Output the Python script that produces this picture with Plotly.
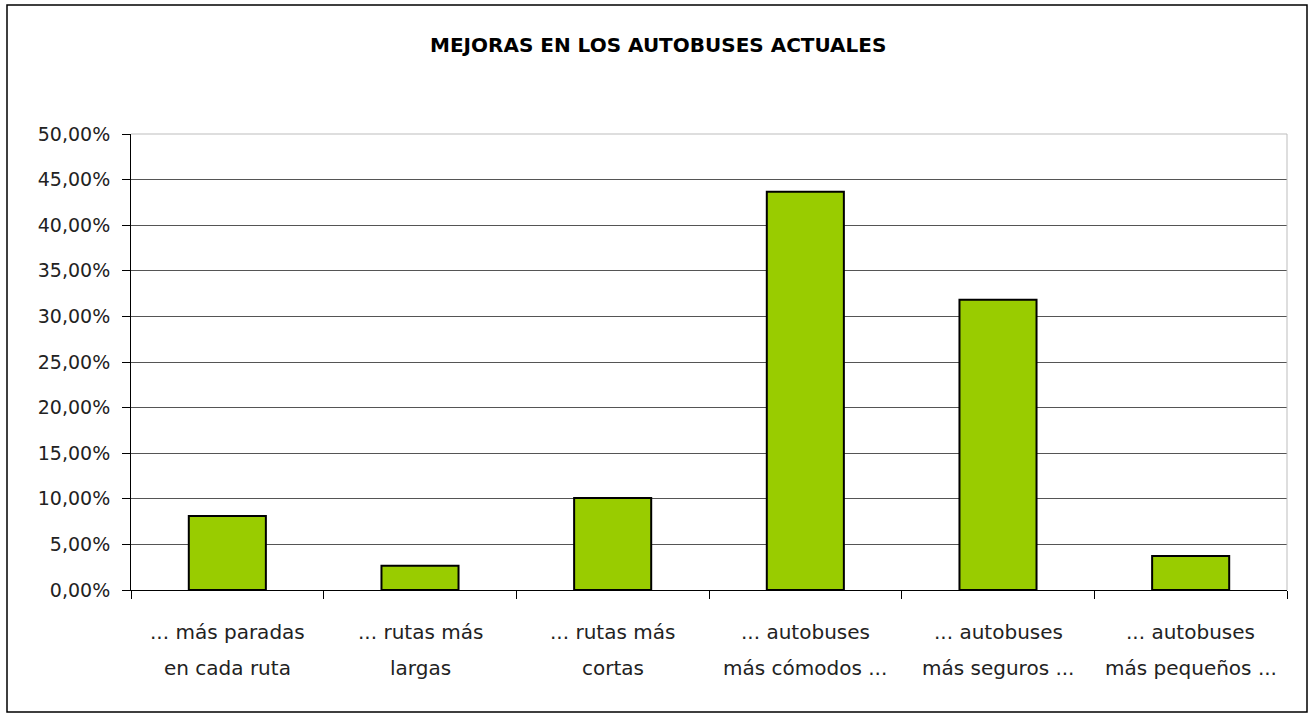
import plotly.graph_objects as go

title = "MEJORAS EN LOS AUTOBUSES ACTUALES"
categories = ["... más paradas en cada ruta", "... rutas más largas", "... rutas más cortas",
              "... autobuses más cómodos ...", "... autobuses más seguros ...", "... autobuses más pequeños ..."]
label_line1 = ["... más paradas", "... rutas más", "... rutas más", "... autobuses", "... autobuses", "... autobuses"]
label_line2 = ["en cada ruta", "largas", "cortas", "más cómodos ...", "más seguros ...", "más pequeños ..."]
values = [0.0811, 0.0266, 0.1009, 0.4367, 0.3183, 0.0373]
y_ticks = [0, 0.05, 0.10, 0.15, 0.20, 0.25, 0.30, 0.35, 0.40, 0.45, 0.50]

FONT = "DejaVu Sans"
W, H = 1314, 716
L, R, T, B = 131, 27, 134, 126
pw, ph = W - L - R, H - T - B

fig = go.Figure(go.Bar(
    x=categories, y=values,
    marker=dict(color="#99CC00", line=dict(color="#000000", width=2)),
    width=0.4,
    hoverinfo="skip",
))


def px_x(p):
    return (p - L) / pw


def px_y(p):
    return (T + ph - p) / ph


annotations = [dict(text="<b>" + title + "</b>", x=px_x(658), xref="paper", y=px_y(45), yref="paper",
                    showarrow=False, font=dict(family=FONT, size=20, color="#000"), xanchor="center", yanchor="middle")]
for c, a, b in zip(categories, label_line1, label_line2):
    annotations.append(dict(text=a, x=c, xref="x", y=-42 / ph, yref="paper", showarrow=False,
                            font=dict(family=FONT, size=20, color="#222"), xanchor="center", yanchor="middle"))
    annotations.append(dict(text=b, x=c, xref="x", y=-78 / ph, yref="paper", showarrow=False,
                            font=dict(family=FONT, size=20, color="#222"), xanchor="center", yanchor="middle"))

shapes = [
    dict(type="rect", xref="paper", yref="paper", x0=px_x(7), x1=px_x(1307), y0=px_y(712), y1=px_y(5),
         line=dict(color="#000000", width=1.5), layer="below"),
    dict(type="line", xref="paper", yref="paper", x0=0, x1=1, y0=1, y1=1, line=dict(color="#bdbdbd", width=1)),
    dict(type="line", xref="paper", yref="paper", x0=1, x1=1, y0=0, y1=1, line=dict(color="#bdbdbd", width=1)),
]

fig.update_layout(
    width=W, height=H,
    margin=dict(l=L, r=R, t=T, b=B),
    paper_bgcolor="white", plot_bgcolor="white",
    separators=",.",
    showlegend=False,
    annotations=annotations,
    shapes=shapes,
    xaxis=dict(type="category", tickson="boundaries", ticks="outside", ticklen=8, tickcolor="#000",
               showticklabels=False, showline=True, linecolor="#000", linewidth=1, showgrid=False,
               range=[-0.5, 5.5], fixedrange=True),
    yaxis=dict(range=[0, 0.5], tickvals=y_ticks, tickformat=".2%", ticks="outside", ticklen=8,
               tickcolor="#000", showline=True, linecolor="#000", linewidth=1,
               showgrid=True, gridcolor="#555555", gridwidth=1, zeroline=False,
               ticklabelstandoff=8,
               tickfont=dict(family=FONT, size=19, color="#222"), fixedrange=True),
)

fig.write_html("out.html", config={"displayModeBar": False},
               post_script="document.body.style.margin='0';document.body.style.overflow='hidden';")
